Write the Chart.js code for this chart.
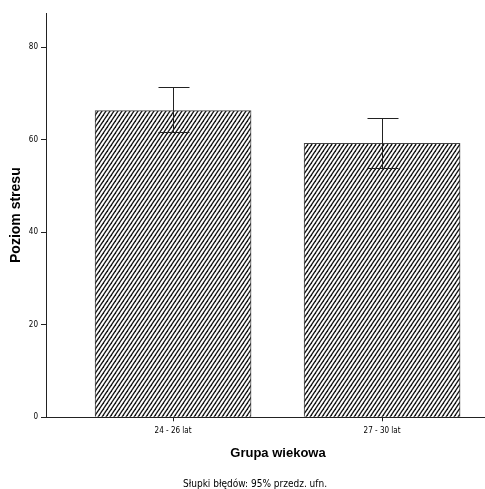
<!DOCTYPE html>
<html>
<head>
<meta charset="utf-8">
<script src="https://cdn.jsdelivr.net/npm/chart.js@4/dist/chart.umd.min.js"></script>
<style>
  html, body { margin: 0; padding: 0; background: #fff; overflow: hidden; }
  #wrap { width: 485px; height: 489px; overflow: hidden; }
</style>
</head>
<body>
<div id="wrap"><canvas id="chart" width="512" height="489"></canvas></div>
<script>
// data
const categories = ['24 - 26 lat', '27 - 30 lat'];
const means = [66.3, 59.2];
const ciLower = [61.6, 53.8];
const ciUpper = [71.3, 64.6];
const yTicks = [0, 20, 40, 60, 80];

const narrow = "'DejaVu Sans Condensed', 'Liberation Sans Narrow', sans-serif";
const bold = "'Liberation Sans', Arial, sans-serif";

// hatch fill, lines going up to the right
function hatch() {
    const c = document.createElement('canvas');
    c.width = 4; c.height = 6;
    const g = c.getContext('2d');
    g.fillStyle = '#fff';
    g.fillRect(0, 0, 4, 6);
    g.strokeStyle = '#111';
    g.lineWidth = 1.3;
    for (const dx of [-4, 0, 4]) {
        g.beginPath();
        g.moveTo(-4 + dx, 12);
        g.lineTo(8 + dx, -6);
        g.stroke();
    }
    return g.createPattern(c, 'repeat');
}

// 95% CI whiskers
const errorBars = {
    id: 'errorBars',
    afterDatasetsDraw(chart) {
        const ctx = chart.ctx;
        const y = chart.scales.y;
        const meta = chart.getDatasetMeta(0);
        ctx.save();
        ctx.strokeStyle = '#222';
        ctx.lineWidth = 1;
        meta.data.forEach((bar, i) => {
            const x = Math.round(bar.x) + 0.5;
            const top = Math.round(y.getPixelForValue(ciUpper[i])) + 0.5;
            const bot = Math.round(y.getPixelForValue(ciLower[i])) + 0.5;
            ctx.beginPath();
            ctx.moveTo(x, top); ctx.lineTo(x, bot);
            ctx.moveTo(x - 15, top); ctx.lineTo(x + 16, top);
            ctx.moveTo(x - 15, bot); ctx.lineTo(x + 16, bot);
            ctx.stroke();
        });
        ctx.restore();
    }
};

new Chart(document.getElementById('chart'), {
    type: 'bar',
    data: {
        datasets: [{
            data: means.map((v, i) => ({ x: i, y: v })),
            backgroundColor: hatch(),
            borderColor: '#444',
            borderWidth: 1,
            barThickness: 156
        }]
    },
    options: {
        responsive: false,
        animation: false,
        devicePixelRatio: 1,
        layout: { padding: { top: 13, left: 0, right: 2, bottom: 0 } },
        plugins: {
            legend: { display: false },
            tooltip: { enabled: false },
            title: {
                display: true,
                position: 'bottom',
                text: 'Słupki błędów: 95% przedz. ufn.',
                color: '#000',
                font: { family: narrow, size: 10, weight: 'normal' },
                padding: { top: 17.5, bottom: -1.5 }
            }
        },
        scales: {
            x: {
                type: 'linear',
                min: -0.608,
                max: 1.612,
                offset: false,
                grid: { display: true, offset: false, drawOnChartArea: false, drawTicks: true, tickLength: 4, tickColor: '#222' },
                border: { color: '#222', width: 1 },
                afterBuildTicks: s => { s.ticks = categories.map((c, i) => ({ value: i })); },
                ticks: {
                    color: '#000',
                    padding: 5,
                    autoSkip: false,
                    maxRotation: 0,
                    font: { family: narrow, size: 8 },
                    callback: v => categories[v]
                },
                title: {
                    display: true,
                    text: 'Grupa wiekowa',
                    color: '#000',
                    font: { family: bold, size: 13, weight: 'bold' },
                    padding: { top: 4.5, bottom: 0 }
                }
            },
            y: {
                min: 0,
                max: 87.4,
                grid: { display: true, drawOnChartArea: false, drawTicks: true, tickLength: 5, tickColor: '#222' },
                border: { color: '#222', width: 1 },
                afterBuildTicks: s => { s.ticks = yTicks.map(v => ({ value: v })); },
                afterFit: s => { s.width = 46; },
                ticks: {
                    color: '#000',
                    padding: 3,
                    font: { family: narrow, size: 8 }
                },
                title: {
                    display: true,
                    text: 'Poziom stresu',
                    color: '#000',
                    font: { family: bold, size: 14, weight: 'bold' },
                    padding: { top: 8, bottom: 0 }
                }
            }
        }
    },
    plugins: [errorBars]
});
</script>
</body>
</html>
